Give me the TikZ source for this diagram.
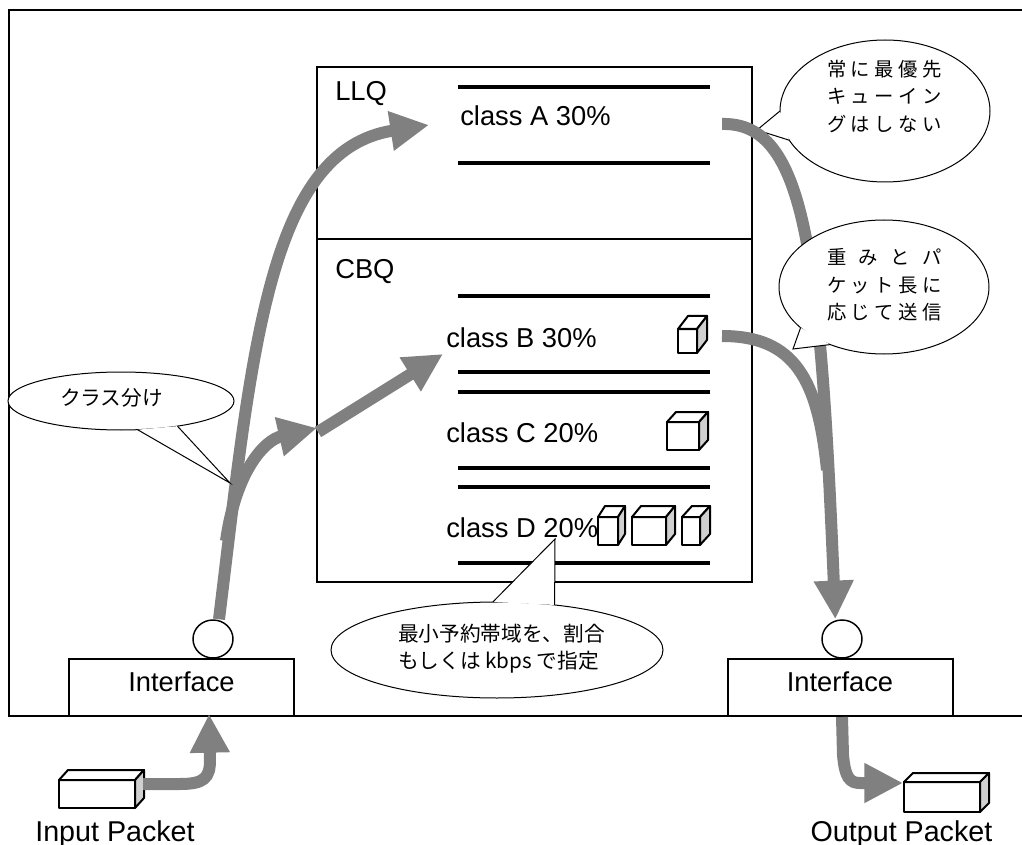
\documentclass[tikz,border=0pt]{standalone}
\usepackage{fontspec}
\setmainfont{Liberation Sans}
\newfontfamily\jp{Noto Sans CJK JP}
\usetikzlibrary{arrows.meta,shapes.geometric}

\definecolor{flowc}{HTML}{808080}
\definecolor{sidec}{HTML}{D0D0D0}

% 3-D packet box: front face (x1,y1)-(x2,y2), depth (dx,dy)
\newcommand\qcube[7][1.5pt]{%
  \filldraw[line width=#1, line join=round, fill=white] (#2,#3) rectangle (#4,#5);
  \filldraw[line width=#1, line join=round, fill=white]
    (#2,#3) -- ++(#6,-#7) -- ++({#4-#2},0) -- (#4,#3) -- cycle;
  \filldraw[line width=#1, line join=round, fill=sidec]
    (#4,#3) -- ++(#6,-#7) -- ++(0,{#5-#3}) -- (#4,#5) -- cycle;
}

% speech-bubble pointer from two border anchors of an ellipse node to a tip
\newcommand\pointer[3]{%
  \fill[white] (#1) -- (#3) -- (#2) -- cycle;
  \draw[line width=0.75pt, line join=miter] (#1) -- (#3) -- (#2);
}

\begin{document}
\begin{tikzpicture}[x=0.75pt,y=-0.75pt,
  lbl/.style={font=\fontsize{20.5}{24}\selectfont, inner sep=0pt},
  pktlbl/.style={font=\fontsize{21.5}{25}\selectfont, inner sep=0pt},
  jpnote/.style={font=\jp\fontsize{15.5}{20.25}\selectfont, inner sep=0pt, align=left},
  jpnarrow/.style={font=\jp\fontsize{14.5}{20.6}\selectfont, inner sep=0pt, align=left},
  bubble/.style={ellipse, draw, fill=white, line width=0.75pt, inner sep=0pt, outer sep=0pt},
  qline/.style={line width=3pt},
  iface/.style={draw, fill=white, line width=1.5pt, minimum width=168.75pt, minimum height=42.75pt,
    text depth=9pt, font=\fontsize{20.5}{24}\selectfont},
  port/.style={ellipse, draw, fill=white, line width=1.1pt, minimum width=30pt, minimum height=28.5pt, inner sep=0pt},
  flowarrow/.style={draw=flowc, line width=9pt, -{Triangle[length=29pt,width=28pt]}},
  flowjoin/.style={draw=flowc, line width=9pt},
]
\useasboundingbox (0,0) rectangle (1022,845);
\fill[white] (0,0) rectangle (1022,845);

% router frame (open to the right)
\draw[line width=1.1pt] (1030,10) -- (9,10) -- (9,716) -- (1030,716);

% queue block
\node[draw, line width=1.5pt, minimum width=326.25pt, minimum height=386.25pt, inner sep=0pt] (qbox) at (534.5,324.5) {};
\coordinate (divY) at (0,239);
\draw[line width=1.5pt] (qbox.west |- divY) -- (qbox.east |- divY);
\node[lbl, anchor=base west] (llq) at (335,101) {LLQ};
\node[lbl, anchor=base west] (cbq) at (335,279) {CBQ};

% class queues
\draw[qline] (458,87) -- (710,87);
\draw[qline] (458,163) -- (710,163);
\draw[qline] (458,296) -- (710,296);
\draw[qline] (458,372) -- (710,372);
\draw[qline] (458,392) -- (710,392);
\draw[qline] (458,468) -- (710,468);
\draw[qline] (458,487) -- (710,487);
\draw[qline] (458,563) -- (710,563);
\node[lbl, anchor=base west] (clsA) at (460,126) {class A 30\%};
\node[lbl, anchor=base west] (clsB) at (446,347) {class B 30\%};
\node[lbl, anchor=base west] (clsC) at (446,442) {class C 20\%};
\node[lbl, anchor=base west] (clsD) at (446,537) {class D 20\%};

% queued packets
\qcube{678}{329}{697}{353}{10}{13}
\qcube{667}{422}{699}{450}{9}{10}
\qcube{598}{517}{618}{545}{7}{11}
\qcube{632}{517}{666}{545}{9}{11}
\qcube{682}{517}{700}{545}{10}{11}

% interfaces
\node[iface] (ifL) at (181.5,687.5) {Interface};
\node[iface] (ifR) at (840,687.5) {Interface};
\node[port] (portL) at (213,639) {};
\node[port] (portR) at (842,639) {};

% input / output packets
\qcube[1.5pt]{59}{780}{135}{808}{9}{10}
\qcube[1.5pt]{904}{782}{980}{812}{9}{9}
\node[pktlbl, anchor=base] (inLbl) at (115,841) {Input Packet};
\node[pktlbl, anchor=base] (outLbl) at (901.5,841) {Output Packet};

% callout tips
\coordinate (tipA) at (757,130);
\coordinate (tipB) at (793,349);
\coordinate (tipC) at (230,483);
\coordinate (tipD) at (555,539);

% callout behind the flows
\node[bubble, minimum width=157.5pt, minimum height=106.5pt] (noteA) at (885,111) {};
\pointer{noteA.180}{noteA.197}{tipA}
\node[jpnarrow] (noteAtxt) at (884.5,96.5) {%
  \makebox[86.25pt][s]{常\hfill に\hfill 最\hfill 優\hfill 先}\\
  \makebox[86.25pt][s]{キ\hfill ュ\hfill ー\hfill イ\hfill ン}\\
  \makebox[86.25pt][s]{グ\hfill は\hfill し\hfill な\hfill い}};

% flow end points
\coordinate (inPkt) at (143,784);
\coordinate (ifLin) at (209,714);
\coordinate (split) at (226,541);
\coordinate (boxIn) at (317,428);
\coordinate (boxOn) at (318,432);
\coordinate (clsAin) at (429,125);
\coordinate (clsBin) at (443,354);
\coordinate (clsAout) at (722,124);
\coordinate (clsBout) at (722,336);
\coordinate (merge) at (827,470);
\coordinate (outPkt) at (903,783);

% packet flows
\draw[flowarrow] (inPkt) -- (180,784) .. controls (204,784) and (210,778) .. (210,760) -- (ifLin);
\draw[flowarrow] ([xshift=4.5pt]portL.north) .. controls (252,350) and (268,150) .. (clsAin);
\draw[flowarrow] (split) .. controls (236,470) and (265,440) .. (boxIn);
\draw[flowarrow] (boxOn) -- (clsBin);
\draw[flowarrow] (clsAout) .. controls (805,122) and (820,250) .. ([xshift=-5pt]portR.north);
\draw[flowjoin] (clsBout) .. controls (795,336) and (818,380) .. (merge);
\draw[flowarrow] ([xshift=1.5pt]ifR.south) -- (843,755) .. controls (845,778) and (850,783) .. (860,783) -- (outPkt);

% callouts in front
\node[bubble, minimum width=157.5pt, minimum height=100.5pt] (noteB) at (884,287) {};
\pointer{noteB.206}{noteB.227}{tipB}
\node[jpnarrow] (noteBtxt) at (884.5,285) {%
  \makebox[86.25pt][s]{重\hfill み\hfill と\hfill パ}\\
  \makebox[86.25pt][s]{ケ\hfill ッ\hfill ト\hfill 長\hfill に}\\
  \makebox[86.25pt][s]{応\hfill じ\hfill て\hfill 送\hfill 信}};

\node[bubble, minimum width=169.5pt, minimum height=43.5pt] (noteC) at (121,401) {};
\pointer{noteC.300}{noteC.336}{tipC}
\node[jpnote] (noteCtxt) at (111.5,398) {クラス分け};

\node[bubble, minimum width=249pt, minimum height=72pt] (noteD) at (497,650) {};
\pointer{noteD.95}{noteD.38}{tipD}
\node[jpnote, anchor=west] (noteDtxt) at (398,648.5) {最小予約帯域を、割合\\もしくは kbps で指定};
\end{tikzpicture}
\end{document}
